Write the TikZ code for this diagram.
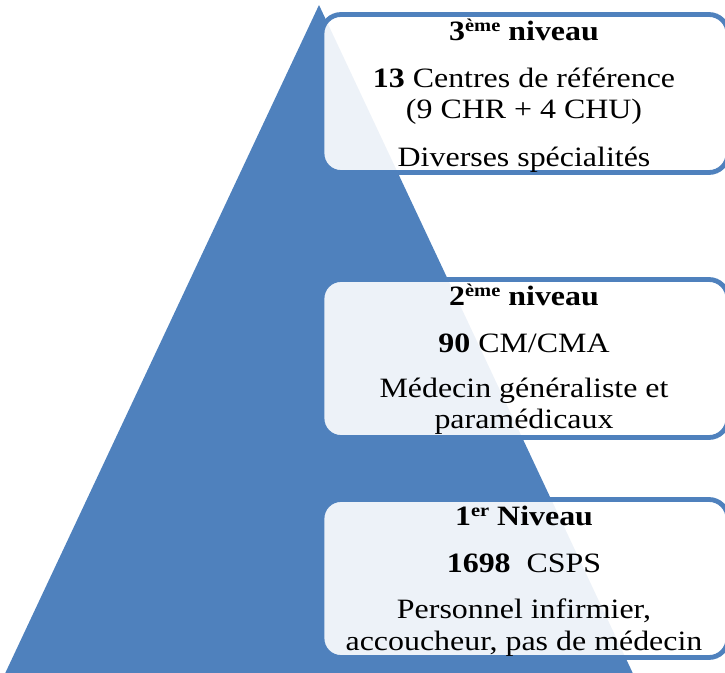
\documentclass[tikz,border=0pt]{standalone}
\usepackage{fontspec}
\setmainfont{Liberation Serif}[FakeStretch=1.14]
\definecolor{pyr}{RGB}{79,129,189}
\newcommand{\supx}[1]{\raisebox{8.5pt}{\fontsize{18}{18}\selectfont #1}}
\tikzset{
  tri/.style={fill=pyr},
  levelbox/.style={draw=pyr, line width=4.8pt, fill=white, fill opacity=0.9,
    rounded corners=19pt, minimum width=406pt, minimum height=158pt, inner sep=0pt},
  txt/.style={anchor=base, inner sep=0pt, font=\fontsize{28}{31}\selectfont, text=black},
}
\begin{document}
\begin{tikzpicture}[x=1pt,y=-1pt]
\useasboundingbox (0,0) rectangle (725,672);
\clip (0,0) rectangle (725,672);
% pyramid
\fill[tri] (319,5) -- (636,680) -- (2,680) -- cycle;
% boxes
\node[levelbox] (b1) at (525,93.5) {};
\node[levelbox] (b2) at (525,358.5) {};
\node[levelbox] (b3) at (525,578.5) {};
% level 3
\node[txt] (t1a) at (524,40) {\textbf{3\supx{ème} niveau}};
\node[txt] (t1b) at (524,87) {\textbf{13} Centres de référence};
\node[txt] (t1c) at (524,118) {(9 CHR + 4 CHU)};
\node[txt] (t1d) at (524,166) {Diverses spécialités};
% level 2
\node[txt] (t2a) at (524,305) {\textbf{2\supx{ème} niveau}};
\node[txt] (t2b) at (524,352) {\textbf{90} CM/CMA};
\node[txt] (t2c) at (524,397) {Médecin généraliste et};
\node[txt] (t2d) at (524,428) {paramédicaux};
% level 1
\node[txt] (t3a) at (524,525) {\textbf{1\supx{er} Niveau}};
\node[txt] (t3b) at (524,572) {\textbf{1698}\ \ CSPS};
\node[txt] (t3c) at (524,618) {Personnel infirmier,};
\node[txt] (t3d) at (524,650) {accoucheur, pas de médecin};
\end{tikzpicture}
\end{document}
